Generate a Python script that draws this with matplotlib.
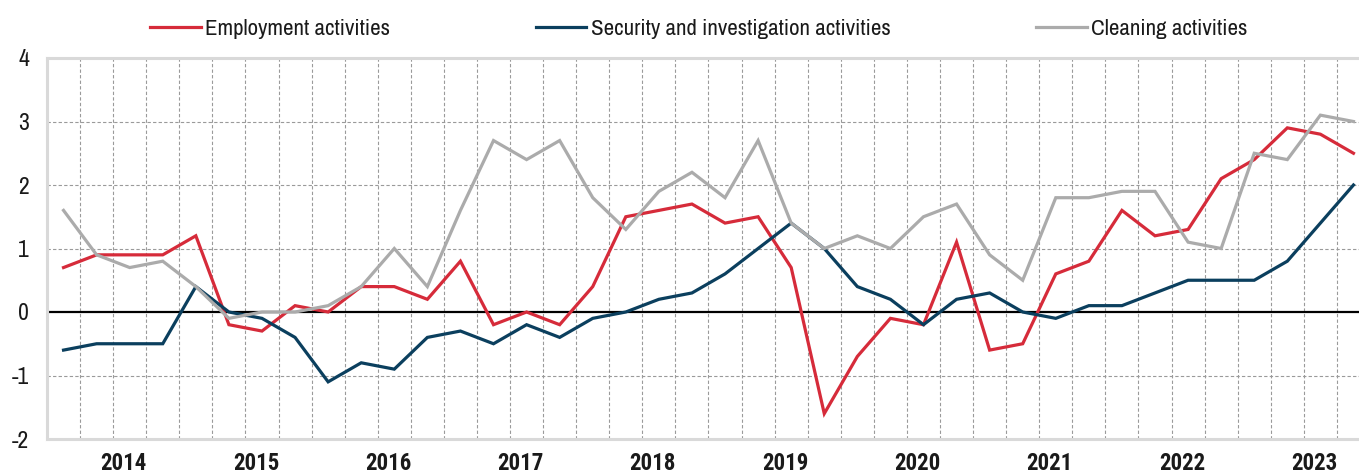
import numpy as np
import matplotlib
matplotlib.use("Agg")
import matplotlib.pyplot as plt

# Quarterly categories 2013Q3 .. 2023Q2
quarters = [f"{y}Q{q}" for y in range(2013, 2024) for q in range(1, 5)][2:42]
year_labels = ["2014", "2015", "2016", "2017", "2018", "2019", "2020", "2021", "2022", "2023"]

employment = [0.7, 0.9, 0.9, 0.9, 1.2, -0.2, -0.3, 0.1, 0.0, 0.4,
              0.4, 0.2, 0.8, -0.2, 0.0, -0.2, 0.4, 1.5, 1.6, 1.7,
              1.4, 1.5, 0.7, -1.6, -0.7, -0.1, -0.2, 1.1, -0.6, -0.5,
              0.6, 0.8, 1.6, 1.2, 1.3, 2.1, 2.4, 2.9, 2.8, 2.5]
security = [-0.6, -0.5, -0.5, -0.5, 0.4, 0.0, -0.1, -0.4, -1.1, -0.8,
            -0.9, -0.4, -0.3, -0.5, -0.2, -0.4, -0.1, 0.0, 0.2, 0.3,
            0.6, 1.0, 1.4, 1.0, 0.4, 0.2, -0.2, 0.2, 0.3, 0.0,
            -0.1, 0.1, 0.1, 0.3, 0.5, 0.5, 0.5, 0.8, 1.4, 2.0]
cleaning = [1.6, 0.9, 0.7, 0.8, 0.4, -0.1, 0.0, 0.0, 0.1, 0.4,
            1.0, 0.4, 1.6, 2.7, 2.4, 2.7, 1.8, 1.3, 1.9, 2.2,
            1.8, 2.7, 1.4, 1.0, 1.2, 1.0, 1.5, 1.7, 0.9, 0.5,
            1.8, 1.8, 1.9, 1.9, 1.1, 1.0, 2.5, 2.4, 3.1, 3.0]

series_names = ["Employment activities", "Security and investigation activities", "Cleaning activities"]
colors = ["#D62B3A", "#0B3F5E", "#ABABAB"]

plt.rcParams['font.family'] = ['Archivo Narrow', 'Liberation Sans', 'DejaVu Sans']
BOLD_FAMILY = ['Roboto Condensed', 'IBM Plex Sans Condensed', 'Liberation Sans']

W, H = 1359, 475
fig = plt.figure(figsize=(W / 100, H / 100), dpi=100)
ax = fig.add_axes([47 / W, 1 - 439 / H, (1370 - 47) / W, (439 - 58) / H])

x = np.arange(len(quarters))
ax.axhline(0, color="black", lw=1.6, zorder=2)
handles = []
for vals, name, c in zip([employment, security, cleaning], series_names, colors):
    ln, = ax.plot(x, vals, color=c, lw=2.3, label=name, zorder=3, solid_joinstyle="miter")
    handles.append(ln)

ax.set_xlim(-0.5, len(quarters) - 0.5)
ax.set_ylim(-2, 4)
ax.set_yticks(range(-2, 5))
ax.set_yticklabels([str(v) for v in range(-2, 5)])

# grid
for xv in np.arange(0.5, len(quarters) - 0.5, 1.0):
    ax.axvline(xv, color="#9a9a9a", lw=0.8, ls=(0, (3, 2)), zorder=1)
for yv in range(-1, 4):
    if yv != 0:
        ax.axhline(yv, color="#9a9a9a", lw=0.8, ls=(0, (3, 2)), zorder=1)

# year labels sit slightly left of the Q1 category centre
year_pos = np.array([quarters.index(f"{y}Q1") for y in year_labels]) - 0.18
ax.set_xticks(year_pos)
ax.set_xticklabels(year_labels, fontsize=16.5, fontweight="bold", color="#1a1a1a",
                   family=BOLD_FAMILY)

ax.tick_params(axis="x", length=0, pad=9)
ax.tick_params(axis="y", length=0, pad=13, labelsize=17, labelcolor="#1a1a1a")

for side in ["left", "top", "bottom"]:
    ax.spines[side].set_color("#d9d9d9")
    ax.spines[side].set_linewidth(2.2)
ax.spines["right"].set_visible(False)

fig.legend(handles=handles, loc="center", bbox_to_anchor=(699 / W, 1 - 29 / H),
           ncol=3, frameon=False, fontsize=16.5, handlelength=2.2, handletextpad=0.2,
           columnspacing=6.35, borderpad=0, labelcolor="#1a1a1a")

fig.savefig("out.png", dpi=100)
